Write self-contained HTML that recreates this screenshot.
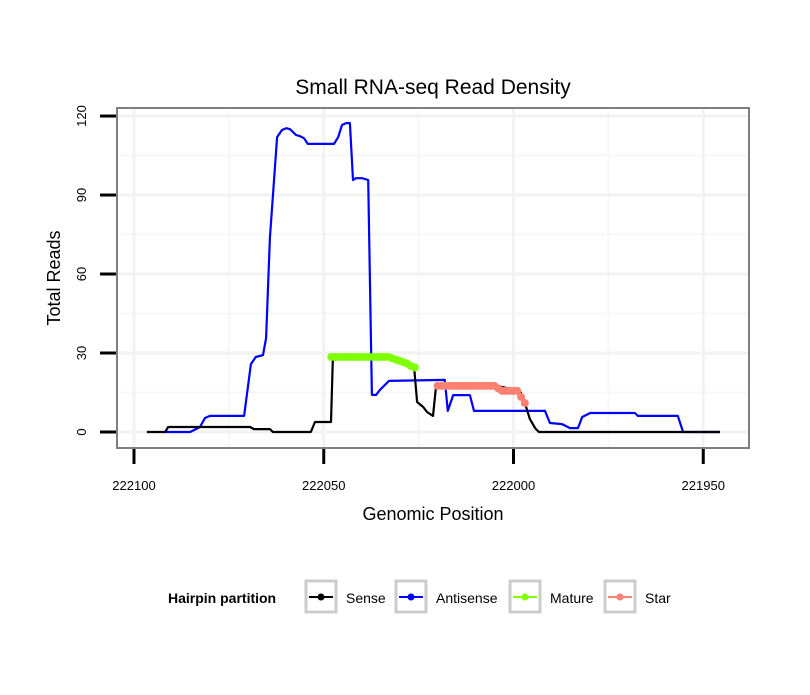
<!DOCTYPE html>
<html><head><meta charset="utf-8"><style>
body{margin:0;background:#fff;}
svg text{font-family:"Liberation Sans",sans-serif;}
</style></head><body>
<svg id="chart" width="810" height="690" xmlns="http://www.w3.org/2000/svg">
<rect width="810" height="690" fill="#fff"/>
<text x="433" y="94" font-size="21" text-anchor="middle">Small RNA-seq Read Density</text>
<g id="grid"></g>
<g id="series"></g>
<rect x="117" y="108" width="632" height="340" fill="none" stroke="#7f7f7f" stroke-width="2"/>
<g id="axes"></g>
<text x="433" y="520" font-size="18" text-anchor="middle">Genomic Position</text>
<text transform="translate(60,278) rotate(-90)" font-size="18" text-anchor="middle">Total Reads</text>
<g>
<text x="168" y="603" font-size="14" font-weight="bold">Hairpin partition</text>
<g id="legend"></g>
</g>
</svg>
<script>
const xTicks=[222100,222050,222000,221950];
const yTicks=[0,30,60,90,120];
const senseX=[222096.6,222091.8,222091,222069.4,222068.4,222064.2,222063.4,222053.4,222052.3,222048.1,222047.6,222032.5,222026.2,222025.4,222023.8,222022.8,222021.2,222020.4,222004.3,221998.3,221997,221995.7,221994.3,221993.3,221945.6];
const senseY=[0,0,1.9,1.9,1.1,1.1,0,0,3.8,3.8,28.5,28.5,24.7,11.4,9.5,7.6,6.1,17.5,17.5,15.6,11,5,1.5,0,0];
const antiX=[222091.8,222085.2,222082.6,222081.3,222080,222071,222069.2,222067.9,222066,222065.2,222064.2,222062.3,222061,222059.9,222058.9,222057.3,222056.3,222055.2,222054.2,222047.3,222046.2,222045.2,222044.1,222043.1,222042.3,222041.5,222039.9,222038.3,222037.3,222036.2,222035.2,222032.8,222018.1,222017.3,222015.9,222011.5,222010.4,221991.7,221990.4,221987.2,221985.1,221983,221981.9,221979.8,221968,221967.2,221956.7,221955.3,221945.6];
const antiY=[0,0,1.9,5.3,6.1,6.1,25.8,28.5,29.2,35.7,73.7,112,114.7,115.4,115,112.8,112.4,111.6,109.4,109.4,112,116.6,117.3,117.3,95.7,96.4,96.4,95.7,14.1,14.1,16,19.4,19.8,8,14,14,8,8,3.4,3,1.5,1.5,5.7,7.2,7.2,6.1,6.1,0,0];
const matureX=[222048,222047,222046,222045,222044,222043,222042,222041,222040,222039,222038,222037,222036,222035,222034,222033,222032,222031,222030,222029,222028,222027,222026];
const matureY=[28.5,28.5,28.5,28.5,28.5,28.5,28.5,28.5,28.5,28.5,28.5,28.5,28.5,28.5,28.5,28.5,28,27.5,27,26.5,26,25,24.5];
const starX=[222020,222019,222018,222017,222016,222015,222014,222013,222012,222011,222010,222009,222008,222007,222006,222005,222004,222003,222002,222001,222000,221999,221998,221997];
const starY=[17.5,17.5,17.5,17.5,17.5,17.5,17.5,17.5,17.5,17.5,17.5,17.5,17.5,17.5,17.5,17.5,16.5,15.6,15.6,15.6,15.6,15.6,13.3,11];
const legendLabels=["Sense","Antisense","Mature","Star"];
const legendColors=["#000000","#0000ff","#7fff00","#fa8072"];

const NS="http://www.w3.org/2000/svg";
function xs(p){return 134+(222100-p)*3.795;}
function ys(v){return 432-v*2.633;}
function mk(tag,attrs,parent){const e=document.createElementNS(NS,tag);for(const k in attrs)e.setAttribute(k,attrs[k]);parent.appendChild(e);return e;}
const grid=document.getElementById('grid'),series=document.getElementById('series'),axes=document.getElementById('axes'),leg=document.getElementById('legend');
// minor grid
for(let i=0;i<xTicks.length-1;i++){const m=(xTicks[i]+xTicks[i+1])/2;const l=mk('line',{x1:xs(m),x2:xs(m),y1:108,y2:448,stroke:'#f7f7f7','stroke-width':2},grid);
}
for(let i=0;i<yTicks.length-1;i++){const m=(yTicks[i]+yTicks[i+1])/2;const l=mk('line',{x1:117,x2:749,y1:ys(m),y2:ys(m),stroke:'#f7f7f7','stroke-width':2},grid);
}
xTicks.forEach(t=>{const l=mk('line',{x1:xs(t),x2:xs(t),y1:108,y2:448,stroke:'#f2f2f2','stroke-width':3},grid);

const tk=mk('line',{x1:xs(t),x2:xs(t),y1:449,y2:464,stroke:'#000','stroke-width':3},axes);

const tx=mk('text',{x:xs(t),y:490,'font-size':13,'text-anchor':'middle'},axes);tx.textContent=t;
});
yTicks.forEach(t=>{const l=mk('line',{x1:117,x2:749,y1:ys(t),y2:ys(t),stroke:'#f2f2f2','stroke-width':3},grid);

const tk=mk('line',{x1:100,x2:116,y1:ys(t),y2:ys(t),stroke:'#000','stroke-width':3},axes);

const tx=mk('text',{transform:`translate(86,${ys(t)}) rotate(-90)`,'font-size':13,'text-anchor':'middle'},axes);tx.textContent=t;
});
function line(X,Y,c,name){const d=X.map((p,i)=>(i?'L':'M')+xs(p).toFixed(1)+','+ys(Y[i]).toFixed(1)).join('');
const e=mk('path',{d:d,fill:'none',stroke:c,'stroke-width':2.2,'stroke-linejoin':'round'},series);
}
line(antiX,antiY,'#0000ff','antisense-line');
line(senseX,senseY,'#000000','sense-line');
function pts(X,Y,c,name){X.forEach((p,i)=>{const e=mk('circle',{cx:xs(p),cy:ys(Y[i]),r:4,fill:c},series);
});}
pts(matureX,matureY,'#7fff00','mature-point');
pts(starX,starY,'#fa8072','star-point');
const boxX=[306,396,510,605];
legendLabels.forEach((lab,i)=>{const g=mk('g',{},leg);

mk('rect',{x:boxX[i],y:581,width:30,height:31,fill:'#fff',stroke:'#cccccc','stroke-width':3},g);
mk('line',{x1:boxX[i]+3,x2:boxX[i]+27,y1:597,y2:597,stroke:legendColors[i],'stroke-width':2},g);
mk('circle',{cx:boxX[i]+15,cy:597,r:3.5,fill:legendColors[i]},g);
const t=mk('text',{x:boxX[i]+40,y:603,'font-size':14},g);t.textContent=lab;});
</script>
</body></html>
